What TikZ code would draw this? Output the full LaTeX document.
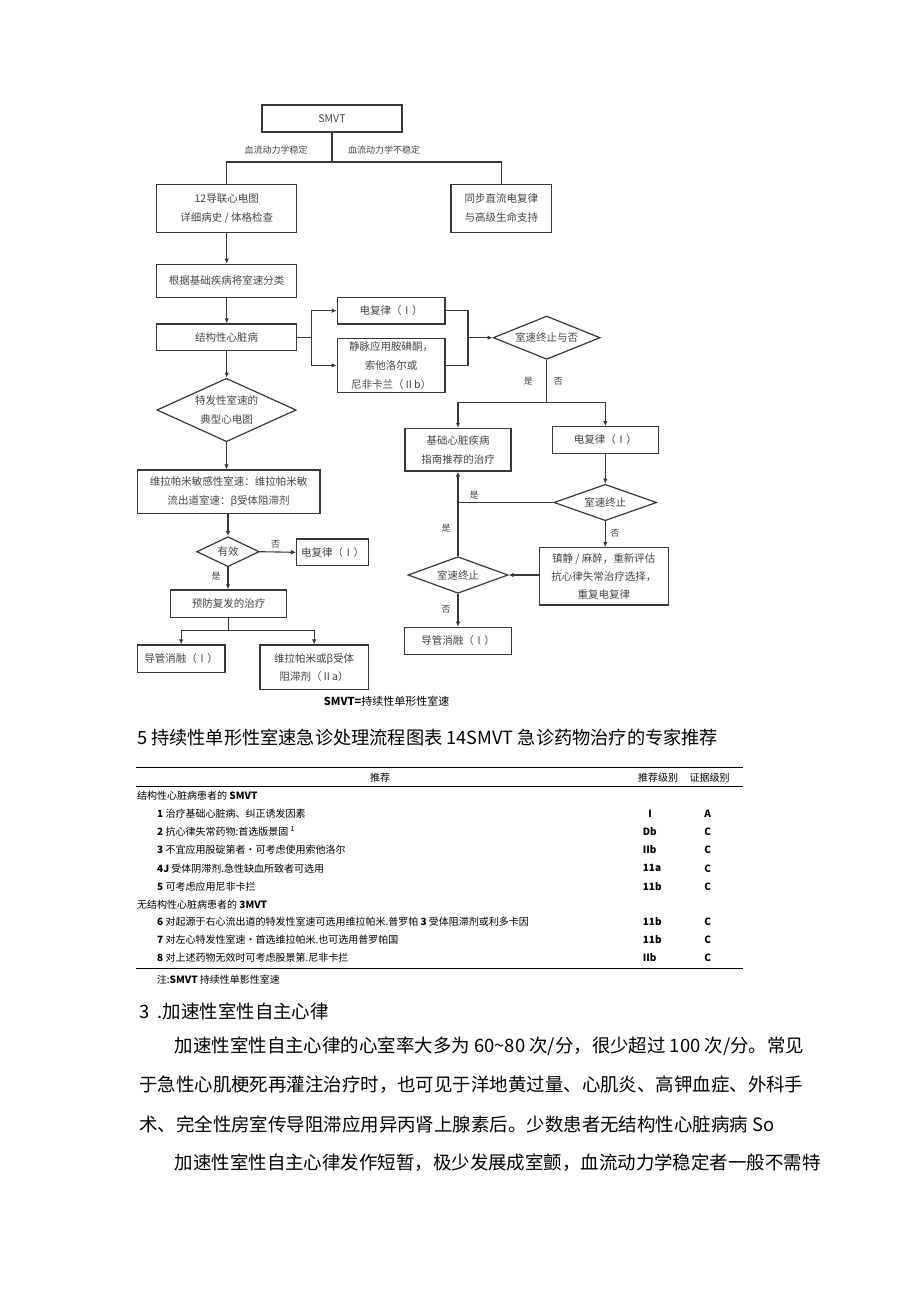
\documentclass[tikz,border=0pt]{standalone}
\usepackage{fontspec}
\setmainfont{Noto Sans CJK SC}
\usetikzlibrary{arrows.meta,shapes.geometric}
\definecolor{ln}{HTML}{383838}
\definecolor{tx}{HTML}{454545}
\begin{document}
\begin{tikzpicture}[x=1pt,y=-1pt,
  fc/.style={font=\fontsize{10.5}{19}\selectfont},
  box/.style={draw=ln,line width=1.2pt,fill=white,text=tx,align=center,inner sep=0pt,fc},
  dia/.style={diamond,draw=ln,line width=1.2pt,fill=white,text=tx,align=center,inner sep=0pt,fc},
  con/.style={draw=ln,line width=1.1pt},
  arr/.style={con,-{Latex[length=5pt,width=4.5pt]}},
  lab/.style={text=tx,font=\fontsize{9}{10}\selectfont,inner sep=0pt},
  tb/.style={font=\fontsize{10}{12}\selectfont,inner sep=0pt,text=black},
  tv/.style={tb,font=\bfseries\fontsize{10}{12}\selectfont},
  body/.style={font=\fontsize{18.45}{20}\selectfont,inner sep=0pt,anchor=west,text=black}]
\useasboundingbox (0,0) rectangle (920,1301);
\fill[white] (0,0) rectangle (920,1301);

% ---------- flowchart nodes ----------
\node[box,minimum width=140pt,minimum height=27pt] (smvt) at (332,118.5) {SMVT};
\node[box,minimum width=140pt,minimum height=48.4pt] (ecg) at (226.7,208.5) {12导联心电图\\详细病史 / 体格检查};
\node[box,minimum width=100.7pt,minimum height=48.4pt] (sync) at (501.3,208.5) {同步直流电复律\\与高级生命支持};
\node[box,minimum width=140pt,minimum height=33pt] (cls) at (226.7,280.8) {根据基础疾病将室速分类};
\node[box,minimum width=140pt,minimum height=26.7pt] (struct) at (226.7,337.3) {结构性心脏病};
\node[box,minimum width=107.7pt,minimum height=26.7pt] (cv1) at (391.2,310.7) {电复律（Ⅰ）};
\node[box,minimum width=107.7pt,minimum height=54pt,line width=1.5pt] (drug) at (391.2,365.3) {静脉应用胺碘酮，\\索他洛尔或\\尼非卡兰（Ⅱb）};
\node[dia,aspect=2.47,minimum width=107pt,minimum height=43.3pt] (dq1) at (546.7,337.7) {室速终止与否};
\node[box,minimum width=106pt,minimum height=42.7pt] (base) at (458,449.7) {基础心脏疾病\\指南推荐的治疗};
\node[box,minimum width=106pt,minimum height=26.6pt] (cv2) at (605.3,440) {电复律（Ⅰ）};
\node[dia,aspect=2.82,minimum width=102.7pt,minimum height=36.4pt] (dq2) at (605.3,502.5) {室速终止};
\node[box,minimum width=129pt,minimum height=57.3pt,font=\fontsize{10.5}{18.3}\selectfont] (sed) at (603.8,576.3) {镇静 / 麻醉，重新评估\\抗心律失常治疗选择，\\重复电复律};
\node[dia,aspect=2.73,minimum width=100pt,minimum height=36.6pt] (dq3) at (458,575) {室速终止};
\node[box,minimum width=107.7pt,minimum height=27pt] (abl2) at (458,640.8) {导管消融（Ⅰ）};
\node[dia,aspect=2.2,minimum width=139.3pt,minimum height=63.4pt,font=\fontsize{10.5}{18.3}\selectfont] (idio) at (226.5,410) {特发性室速的\\典型心电图};
\node[box,minimum width=182.7pt,minimum height=43.3pt,font=\fontsize{10.5}{18.3}\selectfont] (vera) at (228.6,491.7) {维拉帕米敏感性室速：维拉帕米敏\\流出道室速：β受体阻滞剂};
\node[dia,aspect=2.09,minimum width=62.6pt,minimum height=30pt] (eff) at (228,551.7) {有效};
\node[box,minimum width=71.6pt,minimum height=26.7pt] (cv3) at (332.5,552.3) {电复律（Ⅰ）};
\node[box,minimum width=116pt,minimum height=27.7pt] (prev) at (228.7,603.8) {预防复发的治疗};
\node[box,minimum width=87.7pt,minimum height=27.7pt] (abl1) at (181.1,658.8) {导管消融（Ⅰ）};
\node[box,minimum width=108.3pt,minimum height=44.3pt,font=\fontsize{10.5}{18.3}\selectfont] (vb) at (314.1,667.2) {维拉帕米或β受体\\阻滞剂（Ⅱa）};

% ---------- junctions ----------
\coordinate (j1) at (332,162);
\coordinate (j2) at (311.7,337.3);
\coordinate (j3) at (468,337.7);
\coordinate (j4) at (546.7,402.7);
\coordinate (j5) at (228.7,630.7);

% ---------- connectors ----------
\draw[con] (smvt.south) -- (j1);
\draw[con] (j1) -| (ecg.north);
\draw[con] (j1) -| (sync.north);
\draw[arr] (ecg.south) -- (cls.north);
\draw[arr] (cls.south) -- (struct.north);
\draw[con] (struct.east) -- (j2);
\draw[arr] (j2) |- (cv1.west);
\draw[arr] (j2) |- (drug.west);
\draw[con] (cv1.east) -| (j3);
\draw[con] (drug.east) -| (j3);
\draw[arr] (j3) -- (dq1.west);
\draw[con] (dq1.south) -- (j4);
\draw[arr] (j4) -| (base.north);
\draw[arr] (j4) -| (cv2.north);
\draw[arr] (cv2.south) -- (dq2.north);
\draw[con] (dq2.west) -- (base.south |- dq2.west);
\draw[arr] (dq3.north) -- (base.south);
\draw[arr] (dq2.south) -- (dq2.south |- sed.north);
\draw[arr] (sed.west |- dq3.east) -- (dq3.east);
\draw[arr] (dq3.south) -- (abl2.north);
\draw[arr] (struct.south) -- (struct.south |- idio.north);
\draw[arr] (idio.south) -- (idio.south |- vera.north);
\draw[arr] (vera.south -| eff.north) -- (eff.north);
\draw[arr] (eff.east) -- (cv3.west);
\draw[arr] (eff.south) -- (eff.south |- prev.north);
\draw[con] (prev.south) -- (j5);
\draw[arr] (j5) -| (abl1.north);
\draw[arr] (j5) -| (vb.north);

% ---------- connector labels ----------
\node[lab] (l1) at (276,150) {血流动力学稳定};
\node[lab] (l2) at (384,150) {血流动力学不稳定};
\node[lab] (l3) at (528.3,381) {是};
\node[lab] (l4) at (558.3,381) {否};
\node[lab] (l5) at (474,495) {是};
\node[lab] (l6) at (446,528.3) {是};
\node[lab] (l7) at (615,533.3) {否};
\node[lab] (l8) at (446,609) {否};
\node[lab] (l9) at (275.7,544) {否};
\node[lab] (l10) at (216,576) {是};

\node[inner sep=0pt,font=\fontsize{11}{12}\selectfont] (fcap) at (386.7,701.7) {\textbf{SMVT=}持续性单形性室速};

% ---------- caption ----------
\node[body,font=\fontsize{18.2}{20}\selectfont] (cap) at (137,737.5) {5 持续性单形性室速急诊处理流程图表 14SMVT 急诊药物治疗的专家推荐};

% ---------- table ----------
\draw[line width=1pt] (136,767.3) -- (742.7,767.3);
\draw[line width=0.6pt] (136,786.7) -- (742.7,786.7);
\draw[line width=1pt] (136,968.3) -- (742.7,968.3);
\node[tb] (h1) at (380,778) {推荐};
\node[tb] (h2) at (658,778) {推荐级别};
\node[tb] (h3) at (709.5,778) {证据级别};
\node[tb,anchor=west] (s1) at (137,795.5) {结构性心脏病患者的 \textbf{SMVT}};
\node[tb,anchor=west] (r1) at (157,813.3) {\textbf{1} 治疗基础心脏病、纠正诱发因素};
\node[tb,anchor=west] (r2) at (157,831.7) {\textbf{2} 抗心律失常药物:首选版景固 \textsuperscript{1}};
\node[tb,anchor=west] (r3) at (157,850) {\textbf{3} 不宜应用股碇第者·可考虑使用索他洛尔};
\node[tb,anchor=west] (r4) at (157,868.3) {\textbf{4J} 受体阴滞剂.急性缺血所致者可选用};
\node[tb,anchor=west] (r5) at (157,886.3) {\textbf{5} 可考虑应用尼非卡拦};
\node[tb,anchor=west] (s2) at (137,904.3) {无结构性心脏病患者的 \textbf{3MVT}};
\node[tb,anchor=west] (r6) at (157,921.5) {\textbf{6} 对起源于右心流出道的特发性室速可选用维拉帕米.普罗帕 \textbf{3} 受体阻滞剂或利多卡因};
\node[tb,anchor=west] (r7) at (157,939.5) {\textbf{7} 对左心特发性室速•首选维拉帕米.也可选用普罗帕国};
\node[tb,anchor=west] (r8) at (157,957.5) {\textbf{8} 对上述药物无效时可考虑股景第.尼非卡拦};
\node[tv] (a1) at (650,813.3) {I};
\node[tv,anchor=west] (a2) at (642.7,831.7) {Db};
\node[tv,anchor=west] (a3) at (642.7,850) {IIb};
\node[tv,anchor=west] (a4) at (642.7,868.3) {11a};
\node[tv,anchor=west] (a5) at (642.7,886.3) {11b};
\node[tv,anchor=west] (a6) at (642.7,921.5) {11b};
\node[tv,anchor=west] (a7) at (642.7,939.5) {11b};
\node[tv,anchor=west] (a8) at (642.7,957.5) {IIb};
\node[tv] (b1) at (707.7,813.3) {A};
\node[tv] (b2) at (707.7,831.7) {C};
\node[tv] (b3) at (707.7,850) {C};
\node[tv] (b4) at (707.7,868.3) {C};
\node[tv] (b5) at (707.7,886.3) {C};
\node[tv] (b6) at (707.7,921.5) {C};
\node[tv] (b7) at (707.7,939.5) {C};
\node[tv] (b8) at (707.7,957.5) {C};
\node[tb,anchor=west] (note) at (156.7,979.3) {注:\textbf{SMVT} 持续性单影性室速};

% ---------- body text ----------
\node[body] (hd) at (139,1011) {3\ \ .加速性室性自主心律};
\node[body] (p1) at (174.6,1046) {加速性室性自主心律的心室率大多为 60\textasciitilde 80 次/分，很少超过 100 次/分。常见};
\node[body] (p2) at (139,1085) {于急性心肌梗死再灌注治疗时，也可见于洋地黄过量、心肌炎、高钾血症、外科手};
\node[body] (p3) at (139,1124) {术、完全性房室传导阻滞应用异丙肾上腺素后。少数患者无结构性心脏病病 So};
\node[body] (p4) at (174.6,1163) {加速性室性自主心律发作短暂，极少发展成室颤，血流动力学稳定者一般不需特};
\end{tikzpicture}
\end{document}
